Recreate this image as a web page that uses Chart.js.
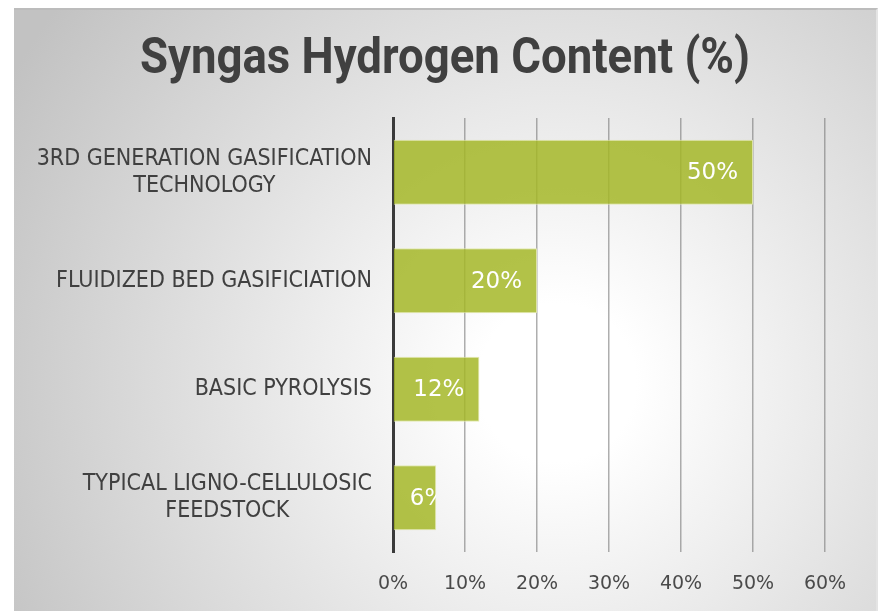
<!DOCTYPE html>
<html>
<head>
<meta charset="utf-8">
<script src="https://cdn.jsdelivr.net/npm/chart.js@4"></script>
<style>
  html, body { margin: 0; padding: 0; background: #ffffff; }
  body { width: 878px; height: 611px; position: relative; overflow: hidden; }
  #frame {
    position: absolute; left: 14px; top: 8px; width: 862px; height: 601px;
    border-top: 2px solid #bcbcbc; border-right: 2px solid #e4e4e4;
    background: radial-gradient(circle farthest-corner at 63% 62%, #ffffff 0%, #ffffff 12%, #c2c2c2 95%);
  }
  #c { position: absolute; left: 0; top: 0; }
</style>
</head>
<body>
<div id="frame"></div>
<canvas id="c" width="878" height="611"></canvas>
<script>
const titleText = "Syngas Hydrogen Content (%)";
const categories = [
  ["3RD GENERATION GASIFICATION", "TECHNOLOGY"],
  ["FLUIDIZED BED GASIFICIATION"],
  ["BASIC PYROLYSIS"],
  ["TYPICAL LIGNO-CELLULOSIC", "FEEDSTOCK"]
];
const values = [50, 20, 12, 6];
const xMin = 0, xMax = 60, xStep = 10;

const labelFont = "23px 'DejaVu Sans Condensed', 'DejaVu Sans', sans-serif";

const titlePlugin = {
  id: 'bigTitle',
  afterDraw(chart) {
    const ctx = chart.ctx;
    ctx.save();
    ctx.font = "bold 50px Roboto, 'DejaVu Sans', sans-serif";
    ctx.fillStyle = '#404040';
    ctx.textAlign = 'center';
    ctx.textBaseline = 'alphabetic';
    const w = ctx.measureText(titleText).width;
    const k = Math.min(1, 610 / w);
    ctx.translate(445, 73);
    ctx.scale(k, 1);
    ctx.fillText(titleText, 0, 0);
    ctx.restore();
  }
};

const yLabelPlugin = {
  id: 'yLabels',
  afterDraw(chart) {
    const ctx = chart.ctx;
    const ys = chart.scales.y;
    const right = chart.chartArea.left - 21;
    const lh = 27;
    ctx.save();
    ctx.font = labelFont;
    ctx.fillStyle = '#404040';
    ctx.textAlign = 'center';
    ctx.textBaseline = 'middle';
    categories.forEach((lines, i) => {
      const cy = ys.getPixelForValue(i);
      const w = Math.max(...lines.map(l => ctx.measureText(l).width));
      const cx = right - w / 2;
      const y0 = cy - (lines.length - 1) * lh / 2;
      lines.forEach((l, k) => ctx.fillText(l, cx, y0 + k * lh));
    });
    ctx.restore();
  }
};

const valueLabelPlugin = {
  id: 'valueLabels',
  afterDatasetsDraw(chart) {
    const ctx = chart.ctx;
    const meta = chart.getDatasetMeta(0);
    ctx.save();
    ctx.font = "23px 'DejaVu Sans', sans-serif";
    ctx.fillStyle = '#ffffff';
    ctx.textAlign = 'left';
    ctx.textBaseline = 'middle';
    meta.data.forEach((bar, i) => {
      const p = bar.getProps(['x', 'y', 'base', 'height'], true);
      const txt = values[i] + '%';
      const w = ctx.measureText(txt).width;
      const tx = Math.max(p.x - 15 - w, p.base + 16);
      ctx.save();
      ctx.beginPath();
      ctx.rect(p.base, p.y - p.height / 2, p.x - p.base, p.height);
      ctx.clip();
      ctx.fillText(txt, tx, p.y + 1);
      ctx.restore();
    });
    ctx.restore();
  }
};

new Chart(document.getElementById('c'), {
  type: 'bar',
  data: {
    labels: categories.map(c => c.join(' ')),
    datasets: [{
      data: values,
      backgroundColor: 'rgba(165,183,40,0.85)',
      borderColor: 'rgba(225,232,170,0.9)',
      borderWidth: 1,
      categoryPercentage: 1,
      barPercentage: 0.6
    }]
  },
  options: {
    indexAxis: 'y',
    responsive: false,
    devicePixelRatio: 1,
    animation: false,
    layout: { padding: { left: 65, right: 53, top: 118, bottom: 17 } },
    plugins: {
      legend: { display: false },
      tooltip: { enabled: false },
      title: { display: false }
    },
    scales: {
      x: {
        min: xMin, max: xMax,
        ticks: {
          stepSize: xStep,
          padding: 21,
          color: '#4a4a4a',
          font: { family: "'DejaVu Sans', sans-serif", size: 19, lineHeight: 1.2 },
          callback: v => v + '%'
        },
        grid: { color: 'rgba(120,120,120,0.6)', lineWidth: 1.5, drawTicks: false },
        border: { display: false },
        afterFit: s => { s.height = 42; }
      },
      y: {
        ticks: { display: false },
        grid: { display: false, drawTicks: false },
        border: { display: true, color: '#3a3a3a', width: 3 },
        afterFit: s => { s.width = 393 - 65; }
      }
    }
  },
  plugins: [titlePlugin, yLabelPlugin, valueLabelPlugin]
});
</script>
</body>
</html>
